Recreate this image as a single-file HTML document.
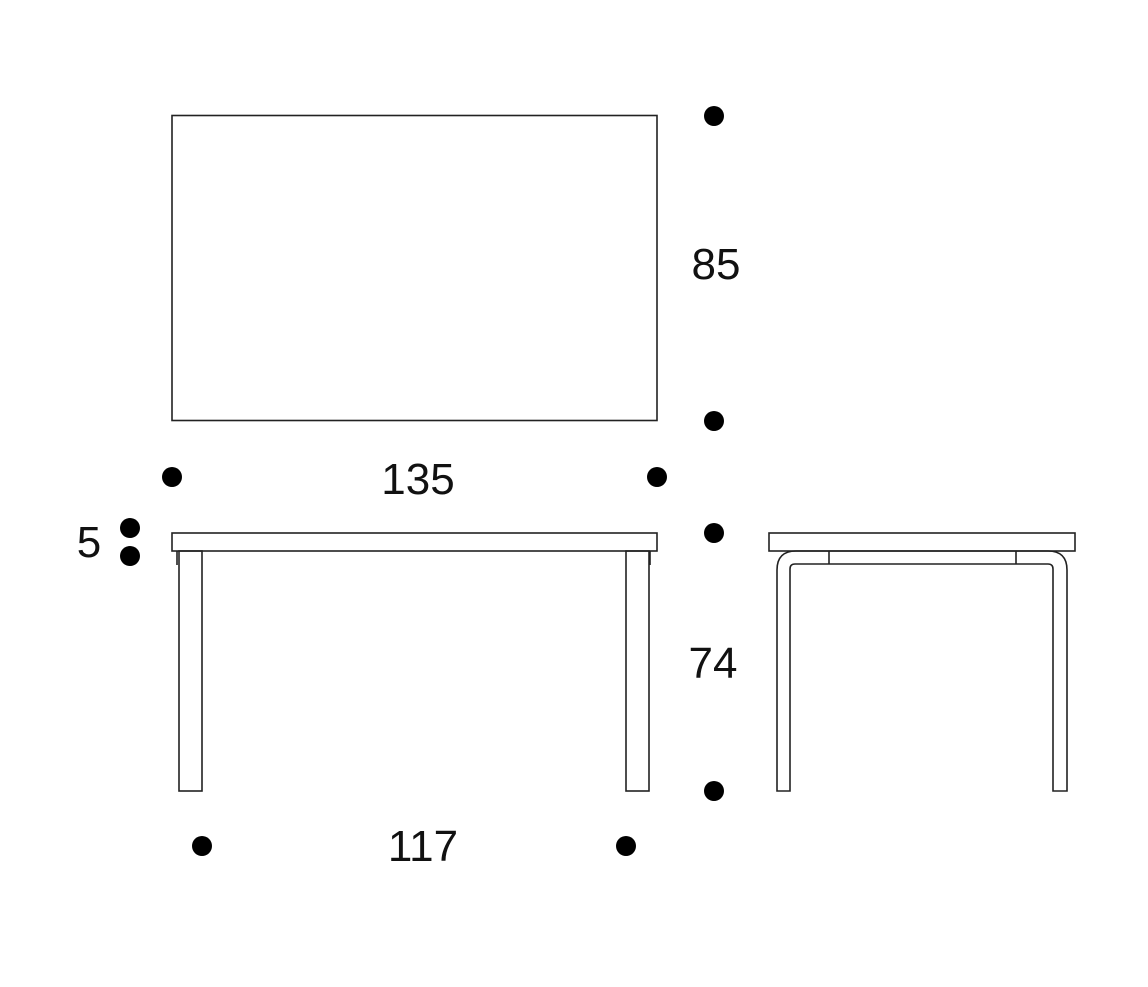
<!DOCTYPE html>
<html><head><style>body{margin:0;background:#fff}</style></head><body>
<svg width="1148" height="982" xmlns="http://www.w3.org/2000/svg" font-family="Liberation Sans, sans-serif">
<g fill="none" stroke="#222" stroke-width="1.6">
<rect x="172" y="115.5" width="485" height="305"/>
<rect x="172" y="533" width="485" height="18"/>
<rect x="179" y="551" width="23" height="240"/>
<rect x="626" y="551" width="23" height="240"/>
<path d="M177 551 V565 M650 551 V565"/>
<rect x="769" y="533" width="306" height="18"/>
<path d="M777 791 V570 Q777 551 796 551 H1048 Q1067 551 1067 570 V791 H1053 V569 Q1053 564 1048 564 H795 Q790 564 790 569 V791 Z"/>
<path d="M829 551 V564 M1016 551 V564"/>
</g>
<g fill="#000">
<circle cx="714" cy="116" r="10"/><circle cx="714" cy="421" r="10"/>
<circle cx="172" cy="477" r="10"/><circle cx="657" cy="477" r="10"/>
<circle cx="130" cy="528" r="10"/><circle cx="130" cy="556" r="10"/>
<circle cx="714" cy="533" r="10"/><circle cx="714" cy="791" r="10"/>
<circle cx="202" cy="846" r="10"/><circle cx="626" cy="846" r="10"/>
</g>
<g font-size="44" fill="#111" text-anchor="middle">
<text x="716" y="279">85</text>
<text x="418" y="494">135</text>
<text x="89" y="557">5</text>
<text x="713" y="678">74</text>
<text x="423" y="861">117</text>
</g>
</svg>
</body></html>
